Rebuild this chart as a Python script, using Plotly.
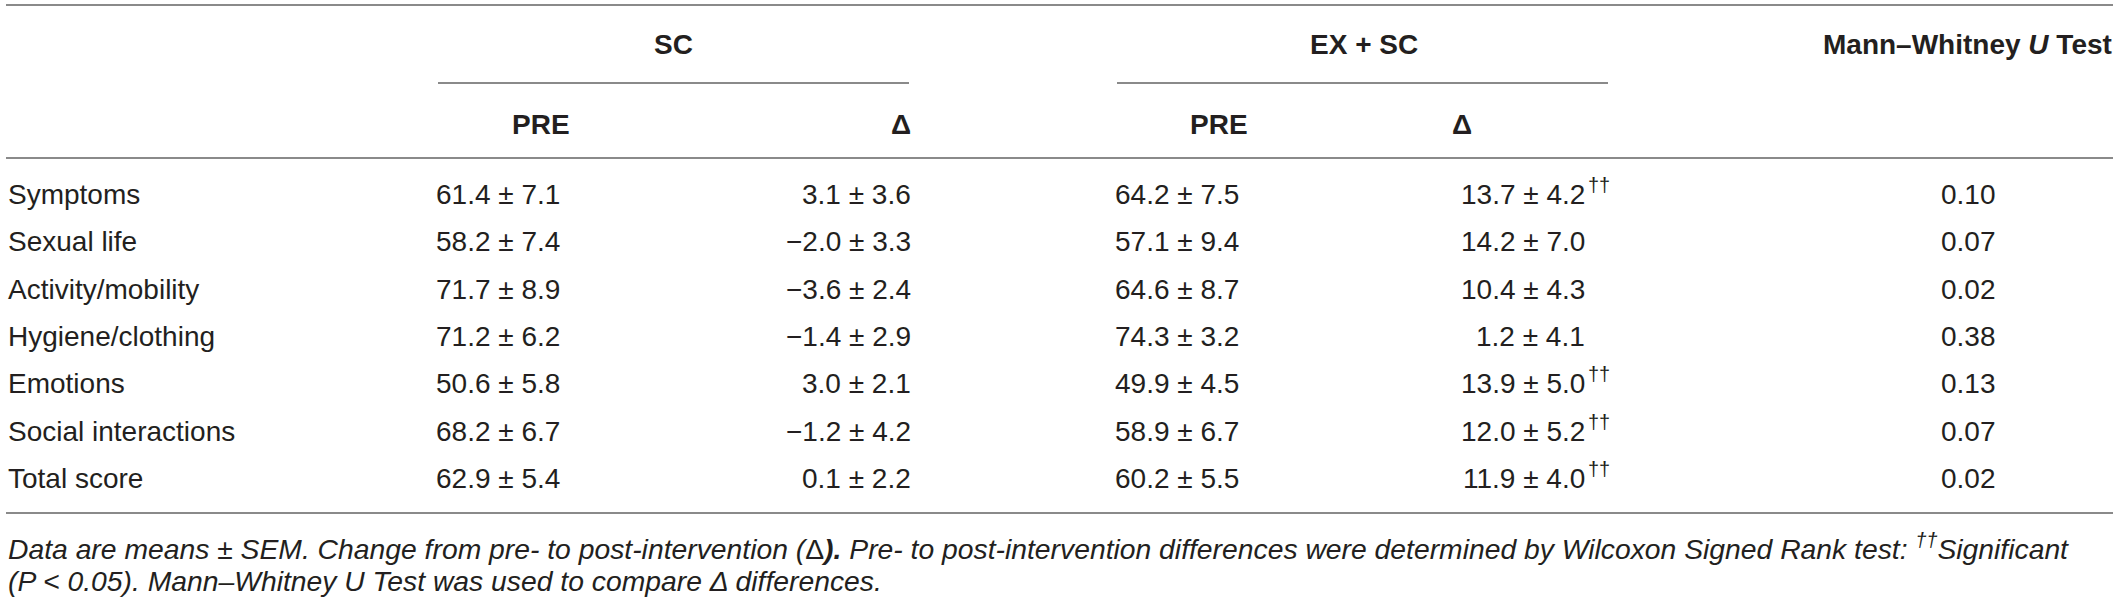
import plotly.graph_objects as go

# ---------------- data ----------------
categories = ["Symptoms", "Sexual life", "Activity/mobility", "Hygiene/clothing",
              "Emotions", "Social interactions", "Total score"]
sc_pre_mean = [61.4, 58.2, 71.7, 71.2, 50.6, 68.2, 62.9]
sc_pre_sem = [7.1, 7.4, 8.9, 6.2, 5.8, 6.7, 5.4]
sc_delta_mean = [3.1, -2.0, -3.6, -1.4, 3.0, -1.2, 0.1]
sc_delta_sem = [3.6, 3.3, 2.4, 2.9, 2.1, 4.2, 2.2]
ex_pre_mean = [64.2, 57.1, 64.6, 74.3, 49.9, 58.9, 60.2]
ex_pre_sem = [7.5, 9.4, 8.7, 3.2, 4.5, 6.7, 5.5]
ex_delta_mean = [13.7, 14.2, 10.4, 1.2, 13.9, 12.0, 11.9]
ex_delta_sem = [4.2, 7.0, 4.3, 4.1, 5.0, 5.2, 4.0]
ex_delta_sig = [True, False, False, False, True, True, True]
mw_p = [0.10, 0.07, 0.02, 0.38, 0.13, 0.07, 0.02]

group_headers = ["SC", "EX + SC", "Mann–Whitney <i>U</i> Test"]
sub_headers = ["PRE", "Δ", "PRE", "Δ"]
sig_mark = "††"
footnote_1 = ("Data are means ± SEM. Change from pre- to post-intervention "
              "(<span style='font-style:normal'>Δ</span><b>).</b> Pre- to post-intervention "
              "differences were determined by Wilcoxon Signed Rank test: <sup>††</sup>Significant")
footnote_2 = "(P < 0.05). Mann–Whitney U Test was used to compare Δ differences."


def fmt(m, s):
    return f"{m:.1f} ± {s:.1f}".replace("-", "−")


# ---------------- layout geometry ----------------
W, H = 2118, 605
FONT = "Liberation Sans, Arial, Helvetica, sans-serif"
TXT = "#231f20"
LINE = "#8a8a8a"
FS = 28

row_y = [194, 241, 289, 336, 383, 431, 478]
x_label = 7
x_sc_pre = 435      # left aligned
x_sc_delta = 912    # right aligned
x_ex_pre = 1114     # left aligned
x_ex_delta = 1586   # right aligned
x_mw = 1968         # centered

annotations = []


def add(text, x, y, anchor="left", size=FS, bold=False, italic=False):
    if bold:
        text = f"<b>{text}</b>"
    annotations.append(dict(
        text=text, x=x, y=y, xref="x", yref="y", xanchor=anchor, yanchor="middle",
        showarrow=False, borderpad=0,
        font=dict(family=FONT, size=size, color=TXT, style="italic" if italic else "normal"),
    ))


# headers
add(group_headers[0], 673, 44, "center", bold=True)
add(group_headers[1], 1364, 44, "center", bold=True)
add(group_headers[2], 2113, 44, "right", bold=True)
add(sub_headers[0], 541, 124, "center", bold=True)
add(sub_headers[1], 901, 124, "center", bold=True)
add(sub_headers[2], 1219, 124, "center", bold=True)
add(sub_headers[3], 1462, 124, "center", bold=True)

# body
for i, cat in enumerate(categories):
    y = row_y[i]
    add(cat, x_label, y, "left")
    add(fmt(sc_pre_mean[i], sc_pre_sem[i]), x_sc_pre, y, "left")
    add(fmt(sc_delta_mean[i], sc_delta_sem[i]), x_sc_delta, y, "right")
    add(fmt(ex_pre_mean[i], ex_pre_sem[i]), x_ex_pre, y, "left")
    add(fmt(ex_delta_mean[i], ex_delta_sem[i]), x_ex_delta, y, "right")
    if ex_delta_sig[i]:
        add(sig_mark, x_ex_delta + 1, y - 9, "left", size=20)
    add(f"{mw_p[i]:.2f}", x_mw, y, "center")

# footnotes
add(footnote_1, x_label, 547, "left", size=28.3, italic=True)
add(footnote_2, x_label, 581, "left", size=28.3, italic=True)

shapes = []


def hline(x0, x1, y):
    shapes.append(dict(type="line", xref="x", yref="y", x0=x0, x1=x1, y0=y, y1=y,
                       line=dict(color=LINE, width=2)))


hline(6, 2113, 5)
hline(438, 909, 83)
hline(1117, 1608, 83)
hline(6, 2113, 158)
hline(6, 2113, 513)

fig = go.Figure(go.Scatter(x=[0, W], y=[0, H], mode="markers",
                           marker=dict(opacity=0), hoverinfo="skip", showlegend=False))
fig.update_layout(
    width=W, height=H, margin=dict(l=0, r=0, t=0, b=0),
    paper_bgcolor="white", plot_bgcolor="white",
    xaxis=dict(range=[0, W], visible=False, fixedrange=True),
    yaxis=dict(range=[H, 0], visible=False, fixedrange=True),
    annotations=annotations, shapes=shapes, showlegend=False,
)
fig.write_html("out.html", config={"displayModeBar": False},
               post_script="document.body.style.margin='0';")
